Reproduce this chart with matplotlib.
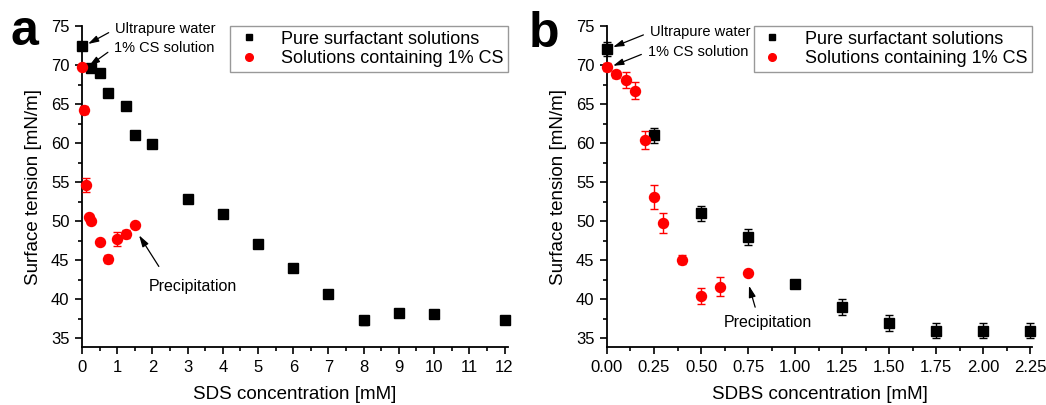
import matplotlib
matplotlib.use('Agg')
import matplotlib.pyplot as plt
from matplotlib.lines import Line2D
from matplotlib.ticker import MultipleLocator, FormatStrFormatter

plt.rcParams['font.family'] = ['Liberation Sans', 'DejaVu Sans']

# panel a: SDS
sds_pure_x = [0, 0.25, 0.5, 0.75, 1.25, 1.5, 2, 3, 4, 5, 6, 7, 8, 9, 10, 12]
sds_pure_y = [72.4, 69.6, 69.0, 66.4, 64.8, 61.0, 59.9, 52.8, 50.9, 47.1, 44.0, 40.7, 37.3, 38.3, 38.1, 37.4]
sds_pure_err = [0.2, 0.5, 0.3, 0.2, 0.2, 0.3, 0.2, 0.2, 0.2, 0.2, 0.2, 0.2, 0.6, 0.2, 0.2, 0.2]
sds_cs_x = [0, 0.05, 0.1, 0.2, 0.25, 0.5, 0.75, 1.0, 1.25, 1.5]
sds_cs_y = [69.7, 64.2, 54.6, 50.5, 50.0, 47.4, 45.2, 47.7, 48.4, 49.5]
sds_cs_err = [0.2, 0.5, 0.9, 0.3, 0.3, 0.2, 0.5, 0.9, 0.5, 0.2]

# panel b: SDBS
sdbs_pure_x = [0, 0.25, 0.5, 0.75, 1.0, 1.25, 1.5, 1.75, 2.0, 2.25]
sdbs_pure_y = [72.0, 61.0, 51.0, 48.0, 42.0, 39.0, 37.0, 36.0, 36.0, 36.0]
sdbs_pure_err = [0.9, 1.0, 1.0, 1.0, 0.2, 1.0, 1.0, 1.0, 1.0, 1.0]
sdbs_cs_x = [0, 0.05, 0.1, 0.15, 0.2, 0.25, 0.3, 0.4, 0.5, 0.6, 0.75]
sdbs_cs_y = [69.7, 68.8, 68.1, 66.7, 60.4, 53.1, 49.8, 45.1, 40.4, 41.6, 43.4]
sdbs_cs_err = [0.5, 0.4, 1.0, 1.1, 1.1, 1.5, 1.3, 0.6, 1.0, 1.2, 0.4]

labels = ['Pure surfactant solutions', 'Solutions containing 1% CS']

fig = plt.figure(figsize=(10.46, 4.05), dpi=100)
ax1 = fig.add_axes([0.0784, 0.1432, 0.4073, 0.7926])
ax2 = fig.add_axes([0.5803, 0.1432, 0.4063, 0.7926])


def draw(ax, px, py, pe, cx, cy, ce):
    ax.errorbar(px, py, yerr=pe, fmt='s', color='black', ms=6.5, capsize=3,
                elinewidth=1, capthick=1, clip_on=False, zorder=3)
    ax.errorbar(cx, cy, yerr=ce, fmt='o', color='red', ms=7.2, capsize=3,
                elinewidth=1, capthick=1, clip_on=False, zorder=4)
    for s in ['top', 'right']:
        ax.spines[s].set_visible(False)
    for s in ['left', 'bottom']:
        ax.spines[s].set_linewidth(1.3)
    ax.set_ylim(33.9, 75)
    ax.yaxis.set_major_locator(MultipleLocator(5))
    ax.yaxis.set_minor_locator(MultipleLocator(2.5))
    ax.tick_params(which='major', direction='out', length=5, width=1.2, labelsize=12, pad=4)
    ax.tick_params(which='minor', direction='out', length=3, width=1.2)
    ax.set_ylabel('Surface tension [mN/m]', fontsize=13.5)
    ax.yaxis.set_label_coords(-0.095, 0.5)
    handles = [Line2D([], [], ls='none', marker='s', color='black', ms=5),
               Line2D([], [], ls='none', marker='o', color='red', ms=5.5)]
    leg = ax.legend(handles, labels, loc='upper right', bbox_to_anchor=(1.0, 1.0),
                    borderaxespad=0, fontsize=13, frameon=True, fancybox=False,
                    handlelength=1.6, handletextpad=1.0, labelspacing=0.15,
                    borderpad=0.25)
    leg.get_frame().set_edgecolor('#808080')
    leg.get_frame().set_linewidth(1)


arrow = dict(arrowstyle='-|>,head_length=0.6,head_width=0.18', color='black', lw=0.9)

draw(ax1, sds_pure_x, sds_pure_y, sds_pure_err, sds_cs_x, sds_cs_y, sds_cs_err)
ax1.set_xlim(0, 12.1)
ax1.xaxis.set_major_locator(MultipleLocator(1))
ax1.xaxis.set_minor_locator(MultipleLocator(0.5))
ax1.set_xlabel('SDS concentration [mM]', fontsize=13.5)
ax1.xaxis.set_label_coords(0.5, -0.12)
ax1.annotate('Ultrapure water', xy=(0.17, 72.7), xytext=(0.94, 74.6), fontsize=10.5,
             va='center', ha='left', arrowprops=dict(arrow, relpos=(0, 0.5), shrinkA=3, shrinkB=0))
ax1.annotate('1% CS solution', xy=(0.2, 69.9), xytext=(0.91, 72.2), fontsize=10.5,
             va='center', ha='left', arrowprops=dict(arrow, relpos=(0, 0.5), shrinkA=3, shrinkB=0))
ax1.annotate('Precipitation', xy=(1.62, 48.2), xytext=(1.9, 41.7), fontsize=11.5,
             va='center', ha='left', arrowprops=dict(arrow, relpos=(0.2, 1.0), shrinkA=8, shrinkB=0))

draw(ax2, sdbs_pure_x, sdbs_pure_y, sdbs_pure_err, sdbs_cs_x, sdbs_cs_y, sdbs_cs_err)
ax2.set_xlim(0, 2.26)
ax2.xaxis.set_major_locator(MultipleLocator(0.25))
ax2.xaxis.set_minor_locator(MultipleLocator(0.125))
ax2.xaxis.set_major_formatter(FormatStrFormatter('%.2f'))
ax2.set_xlabel('SDBS concentration [mM]', fontsize=13.5)
ax2.xaxis.set_label_coords(0.5, -0.12)
ax2.annotate('Ultrapure water', xy=(0.032, 72.3), xytext=(0.229, 74.2), fontsize=10.5,
             va='center', ha='left', arrowprops=dict(arrow, relpos=(0, 0.5), shrinkA=3, shrinkB=0))
ax2.annotate('1% CS solution', xy=(0.032, 69.9), xytext=(0.218, 71.7), fontsize=10.5,
             va='center', ha='left', arrowprops=dict(arrow, relpos=(0, 0.5), shrinkA=3, shrinkB=0))
ax2.annotate('Precipitation', xy=(0.755, 41.75), xytext=(0.622, 37.0), fontsize=11.5,
             va='center', ha='left', arrowprops=dict(arrow, relpos=(0.38, 1.0), shrinkA=4, shrinkB=0))

fig.text(0.010, 0.889, 'a', fontsize=36, fontweight='bold', va='baseline', ha='left')
fig.text(0.505, 0.884, 'b', fontsize=36, fontweight='bold', va='baseline', ha='left')

fig.savefig('out.png', dpi=100)
